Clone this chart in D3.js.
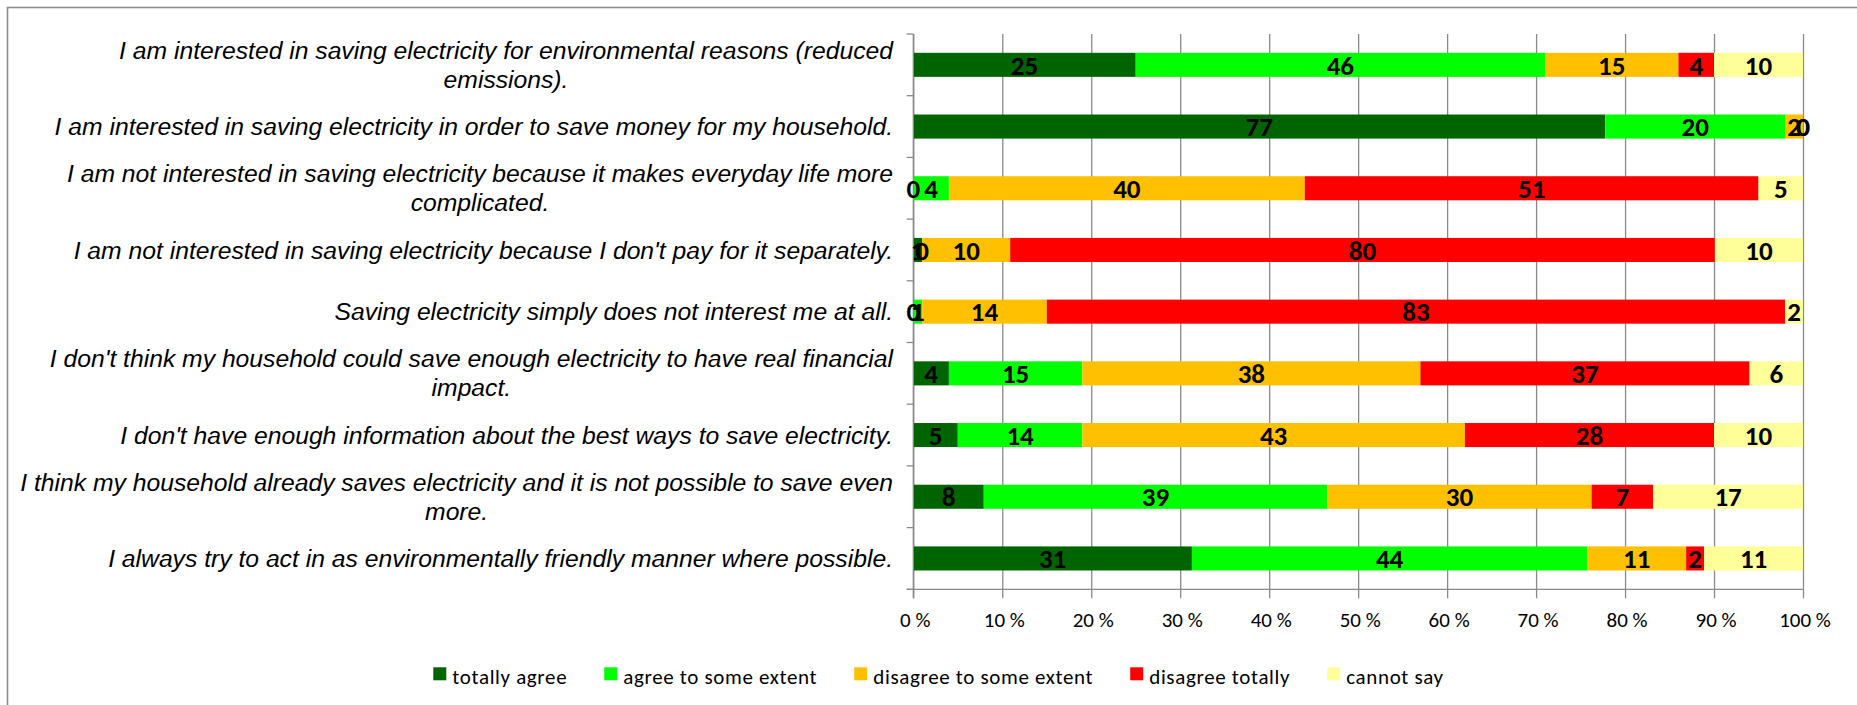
<!DOCTYPE html>
<html>
<head>
<meta charset="utf-8">
<script src="https://cdn.jsdelivr.net/npm/d3@7"></script>
<style>
  html, body { margin: 0; padding: 0; background: #ffffff; }
  svg { display: block; }
</style>
</head>
<body>
<svg id="chart" width="1857" height="705"></svg>
<script>
// Survey statements (line breaks mark where the label wraps)
const statements = [
  "I am interested in saving electricity for environmental reasons (reduced\nemissions).",
  "I am interested in saving electricity in order to save money for my household.",
  "I am not interested in saving electricity because it makes everyday life more\ncomplicated.",
  "I am not interested in saving electricity because I don't pay for it separately.",
  "Saving electricity simply does not interest me at all.",
  "I don't think my household could save enough electricity to have real financial\nimpact.",
  "I don't have enough information about the best ways to save electricity.",
  "I think my household already saves electricity and it is not possible to save even\nmore.",
  "I always try to act in as environmentally friendly manner where possible."
];

// Answer options (legend order)
const answers = ["totally agree", "agree to some extent", "disagree to some extent", "disagree totally", "cannot say"];

// Share of respondents (%) per statement, one array per answer option
const totallyAgree     = [25, 77,  0,  1,  0,  4,  5,  8, 31];
const agreeSomewhat    = [46, 20,  4,  0,  1, 15, 14, 39, 44];
const disagreeSomewhat = [15,  2, 40, 10, 14, 38, 43, 30, 11];
const disagreeTotally  = [ 4,  0, 51, 80, 83, 37, 28,  7,  2];
const cannotSay        = [10,  0,  5, 10,  2,  6, 10, 17, 11];

// Axis tick values and their labels
const tickValues = [0, 0.1, 0.2, 0.3, 0.4, 0.5, 0.6, 0.7, 0.8, 0.9, 1];
const tickLabels = ["0 %", "10 %", "20 %", "30 %", "40 %", "50 %", "60 %", "70 %", "80 %", "90 %", "100 %"];

const answerColors = ["#006400", "#00ff00", "#ffc000", "#ff0000", "#ffff99"];

// ---- layout ----
const W = 1857, H = 705;
const plot = { left: 913.3, right: 1803, top: 34, bottom: 589.3 };
const gridColor = "#8a8a8a";
const labelFont = "'Liberation Sans', Arial, sans-serif";
const uiFont = "Carlito, Calibri, Lato, sans-serif";

const svg = d3.select("#chart");

// outer chart frame (runs off the right and bottom edges)
svg.append("rect")
  .attr("x", 7.5).attr("y", 7.5)
  .attr("width", W + 20).attr("height", H + 20)
  .attr("fill", "#ffffff")
  .attr("stroke", "#8c8c8c").attr("stroke-width", 1.6);

// table of rows built from the series arrays
const series = [totallyAgree, agreeSomewhat, disagreeSomewhat, disagreeTotally, cannotSay];
const rows = statements.map((s, i) => {
  const r = { statement: s };
  answers.forEach((a, k) => { r[a] = series[k][i]; });
  return r;
});

const stacked = d3.stack()
  .keys(answers)
  .offset(d3.stackOffsetExpand)(rows);

const x = d3.scaleLinear().domain([0, 1]).range([plot.left, plot.right]);
const y = d3.scaleBand().domain(statements).range([plot.top, plot.bottom]).padding(0);
const barH = y.bandwidth() * 0.39;
const color = d3.scaleOrdinal().domain(answers).range(answerColors);

// vertical gridlines + downward tick marks
const xAxis = d3.axisBottom(x)
  .tickValues(tickValues)
  .tickSize(-(plot.bottom + 9 - plot.top))
  .tickFormat((d, i) => tickLabels[i]);

const gx = svg.append("g")
  .attr("transform", `translate(0,${plot.bottom + 9})`)
  .call(xAxis);
gx.select(".domain").remove();
gx.selectAll(".tick line").attr("stroke", gridColor).attr("stroke-width", 1.3);
gx.selectAll(".tick text")
  .attr("y", 0).attr("dy", 0)
  .attr("transform", "translate(1.5,29)")
  .style("font-family", uiFont)
  .style("font-size", "21px")
  .attr("fill", "#000");

// bars
const layer = svg.append("g").selectAll("g")
  .data(stacked).join("g")
  .attr("fill", d => color(d.key));

layer.selectAll("rect")
  .data(d => d).join("rect")
  .attr("x", d => x(d[0]))
  .attr("width", d => x(d[1]) - x(d[0]))
  .attr("y", d => y(d.data.statement) + (y.bandwidth() - barH) / 2)
  .attr("height", barH);

// category axis line with ticks between the rows
const gy = svg.append("g").attr("stroke", gridColor).attr("stroke-width", 1.3);
gy.append("line")
  .attr("x1", x(0)).attr("x2", x(0))
  .attr("y1", plot.top).attr("y2", plot.bottom + 9);
const bounds = statements.map(s => y(s)).concat([y.range()[1]]);
gy.selectAll("line.tk").data(bounds).join("line")
  .attr("class", "tk")
  .attr("x1", x(0) - 6.6).attr("x2", x(0))
  .attr("y1", d => d).attr("y2", d => d);
// value axis baseline
svg.append("line")
  .attr("x1", x(0) - 6.6).attr("x2", x(1))
  .attr("y1", plot.bottom).attr("y2", plot.bottom)
  .attr("stroke", gridColor).attr("stroke-width", 1.3);

// statement labels: block right-aligned to the axis, lines centred within the block
const labelRight = 893;
const lineGap = 29;
const gl = svg.append("g")
  .style("font-family", labelFont)
  .style("font-style", "italic")
  .style("font-size", "24.7px")
  .attr("fill", "#000");

statements.forEach(s => {
  const lines = s.split("\n");
  const t = gl.append("text").attr("text-anchor", "middle");
  const cy = y(s) + y.bandwidth() / 2;
  const spans = lines.map((ln, i) => t.append("tspan")
    .attr("y", cy + (i - (lines.length - 1) / 2) * lineGap)
    .attr("dy", "0.35em")
    .text(ln));
  const maxW = d3.max(spans, sp => sp.node().getComputedTextLength());
  spans.forEach(sp => sp.attr("x", labelRight - maxW / 2));
});

// value labels centred on each segment
const gv = svg.append("g")
  .style("font-family", uiFont)
  .style("font-weight", "bold")
  .style("font-size", "27px")
  .attr("fill", "#000")
  .attr("text-anchor", "middle");

stacked.forEach(lay => {
  gv.selectAll(null).data(lay).join("text")
    .attr("x", d => x((d[0] + d[1]) / 2))
    .attr("y", d => y(d.data.statement) + y.bandwidth() / 2)
    .attr("dy", "0.36em")
    .text(d => d.data[lay.key]);
});

// legend
const legend = svg.append("g")
  .style("font-family", uiFont)
  .style("font-size", "21px")
  .style("letter-spacing", "0.65px");
let lx = 433.3;
answers.forEach(a => {
  legend.append("rect")
    .attr("x", lx).attr("y", 667.3)
    .attr("width", 13).attr("height", 13)
    .attr("fill", color(a));
  const t = legend.append("text")
    .attr("x", lx + 19).attr("y", 684)
    .attr("fill", "#000")
    .text(a);
  lx += 19 + t.node().getComputedTextLength() + 37;
});
</script>
</body>
</html>
